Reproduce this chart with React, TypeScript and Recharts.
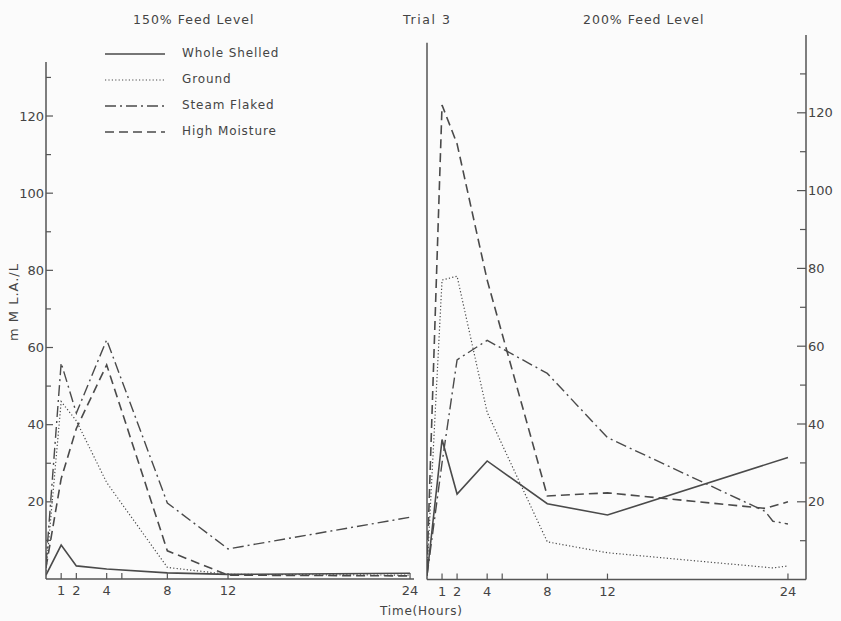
import React from "react";
import { LineChart, Line, XAxis, YAxis, ReferenceLine } from "recharts";

// ---- data ----
const leftTimes = [0, 1, 2, 4, 8, 12, 24];
const leftWholeShelled = [1, 8.8, 3.4, 2.6, 1.6, 1.2, 1.5];
const leftGround = [2, 46, 41, 25, 3, 1.2, 1.0];
const leftSteamFlaked = [4, 56, 43, 62, 19.7, 7.8, 16];
const leftHighMoisture = [3, 26, 39, 55.5, 7.3, 1, 0.8];

const rightWSTimes = [0, 1, 2, 4, 8, 12, 24];
const rightWholeShelled = [1, 36, 22, 30.5, 19.5, 16.6, 31.4];
const rightGTimes = [0, 1, 2, 4, 8, 12, 23, 24];
const rightGround = [2, 77, 78, 43, 9.7, 6.9, 3, 3.5];
const rightSFTimes = [0, 1, 2, 4, 8, 12, 22.5, 23, 24];
const rightSteamFlaked = [1, 30, 56.5, 61.5, 53, 36.5, 17.5, 15, 14.3];
const rightHMTimes = [0, 1, 2, 4, 8, 12, 22.5, 24];
const rightHighMoisture = [3, 122, 112, 77, 21.5, 22.3, 18.3, 20];

const seriesNames = ["Whole Shelled", "Ground", "Steam Flaked", "High Moisture"];
const xTicks = [1, 2, 4, 5, 8, 12, 24];
const xTickLabels: Record<number, string> = { 1: "1", 2: "2", 4: "4", 5: "", 8: "8", 12: "12", 24: "24" };
const yTicks = [10, 20, 30, 40, 50, 60, 70, 80, 90, 100, 110, 120, 130];

const pair = (ts: number[], vs: number[]) => ts.map((t, i) => ({ t, v: vs[i] }));

const INK = "#4a4a4a";
const AXIS = "#555";
const FONT = "'DejaVu Sans', sans-serif";

const styles = [
  { strokeDasharray: undefined as string | undefined, strokeWidth: 1.6 },
  { strokeDasharray: "1.2 2.2", strokeWidth: 1.2 },
  { strokeDasharray: "11 4 2 4", strokeWidth: 1.4 },
  { strokeDasharray: "9 5", strokeWidth: 1.6 },
];

const LeftYTick = (props: any) => {
  const { x, y, payload } = props;
  const v = payload.value;
  const major = v % 20 === 0;
  return (
    <g>
      <line x1={x} x2={x + (major ? 7 : 5)} y1={y} y2={y} stroke={AXIS} strokeWidth={1.2} />
      {major && (
        <text x={x - 2} y={y} dy={4.5} textAnchor="end" fontSize={13} fill="#444" fontFamily={FONT}>
          {v}
        </text>
      )}
    </g>
  );
};

const RightYTick = (props: any) => {
  const { x, y, payload } = props;
  const v = payload.value;
  const major = v % 20 === 0;
  return (
    <g>
      <line x1={x - (major ? 9 : 6)} x2={x} y1={y} y2={y} stroke={AXIS} strokeWidth={1.2} />
      {major && (
        <text x={x + 2} y={y} dy={4.5} textAnchor="start" fontSize={13} fill="#444" fontFamily={FONT}>
          {v}
        </text>
      )}
    </g>
  );
};

const XTick = (props: any) => {
  const { x, y, payload } = props;
  const v = payload.value;
  return (
    <g>
      <line x1={x} x2={x} y1={y} y2={y - 6} stroke={AXIS} strokeWidth={1.2} />
      <text x={x} y={y + 16} textAnchor="middle" fontSize={13} fill="#444" fontFamily={FONT}>
        {xTickLabels[v]}
      </text>
    </g>
  );
};

export default function App() {
  const leftSeries = [leftWholeShelled, leftGround, leftSteamFlaked, leftHighMoisture].map((vs) =>
    pair(leftTimes, vs)
  );
  const rightSeries = [
    pair(rightWSTimes, rightWholeShelled),
    pair(rightGTimes, rightGround),
    pair(rightSFTimes, rightSteamFlaked),
    pair(rightHMTimes, rightHighMoisture),
  ];

  const textStyle: React.CSSProperties = {
    position: "absolute",
    fontFamily: FONT,
    color: "#444",
    whiteSpace: "nowrap",
  };

  return (
    <div style={{ position: "absolute", left: 0, top: 0, width: 841, height: 621, background: "#fbfbfb", overflow: "hidden" }}>
      {/* left panel */}
      <div style={{ position: "absolute", left: 0, top: 0 }}>
        <LineChart width={430} height={621} margin={{ top: 62, right: 16, bottom: 12, left: 0 }}>
          <XAxis
            dataKey="t"
            type="number"
            domain={[0, 24.26]}
            ticks={xTicks}
            tick={<XTick />}
            tickSize={0}
            tickMargin={0}
            height={30}
            stroke={AXIS}
            strokeWidth={1.5}
            allowDataOverflow
          />
          <YAxis
            type="number"
            domain={[0, 134]}
            ticks={yTicks}
            tick={<LeftYTick />}
            tickSize={0}
            tickMargin={0}
            width={46}
            stroke={AXIS}
            strokeWidth={1.5}
            interval={0}
            allowDataOverflow
          />
          {leftSeries.map((d, i) => (
            <Line
              key={i}
              data={d}
              dataKey="v"
              name={seriesNames[i]}
              type="linear"
              stroke={INK}
              strokeWidth={styles[i].strokeWidth}
              strokeDasharray={styles[i].strokeDasharray}
              dot={false}
              activeDot={false}
              isAnimationActive={false}
            />
          ))}
        </LineChart>
      </div>

      {/* right panel */}
      <div style={{ position: "absolute", left: 420, top: 0 }}>
        <LineChart width={421} height={621} margin={{ top: 35, right: 0, bottom: 11.4, left: 7 }}>
          <XAxis
            dataKey="t"
            type="number"
            domain={[0, 25.2]}
            ticks={xTicks}
            tick={<XTick />}
            tickSize={0}
            tickMargin={0}
            height={30}
            stroke={AXIS}
            strokeWidth={1.5}
            allowDataOverflow
          />
          <YAxis
            orientation="right"
            type="number"
            domain={[0, 140]}
            ticks={yTicks}
            tick={<RightYTick />}
            tickSize={0}
            tickMargin={0}
            width={35}
            stroke={AXIS}
            strokeWidth={1.5}
            interval={0}
            allowDataOverflow
          />
          <ReferenceLine
            segment={[
              { x: 0, y: 0 },
              { x: 0, y: 138 },
            ]}
            stroke={AXIS}
            strokeWidth={1.5}
          />
          {rightSeries.map((d, i) => (
            <Line
              key={i}
              data={d}
              dataKey="v"
              name={seriesNames[i]}
              type="linear"
              stroke={INK}
              strokeWidth={styles[i].strokeWidth}
              strokeDasharray={styles[i].strokeDasharray}
              dot={false}
              activeDot={false}
              isAnimationActive={false}
            />
          ))}
        </LineChart>
      </div>

      {/* titles */}
      <div style={{ ...textStyle, left: 133, top: 12, fontSize: 12.5, letterSpacing: 1 }}>150% Feed Level</div>
      <div style={{ ...textStyle, left: 403, top: 12, fontSize: 12.5, letterSpacing: 1.6 }}>Trial 3</div>
      <div style={{ ...textStyle, left: 583, top: 12, fontSize: 12.5, letterSpacing: 1 }}>200% Feed Level</div>

      {/* legend */}
      <svg style={{ position: "absolute", left: 0, top: 0 }} width={180} height={150}>
        {seriesNames.map((n, i) => (
          <line
            key={n}
            x1={105}
            x2={165}
            y1={54 + i * 26}
            y2={54 + i * 26}
            stroke={INK}
            strokeWidth={styles[i].strokeWidth}
            strokeDasharray={styles[i].strokeDasharray}
          />
        ))}
      </svg>
      {seriesNames.map((n, i) => (
        <div key={n} style={{ ...textStyle, left: 182, top: 46 + i * 26, fontSize: 12, letterSpacing: 0.9 }}>
          {n}
        </div>
      ))}

      {/* axis titles */}
      <div style={{ ...textStyle, left: 380, top: 604, fontSize: 12, letterSpacing: 0.8 }}>Time(Hours)</div>
      <div
        style={{
          ...textStyle,
          left: 13,
          top: 302,
          fontSize: 13,
          letterSpacing: 1,
          transform: "translate(-50%, -50%) rotate(-90deg)",
        }}
      >
        m M L.A./L
      </div>
    </div>
  );
}
